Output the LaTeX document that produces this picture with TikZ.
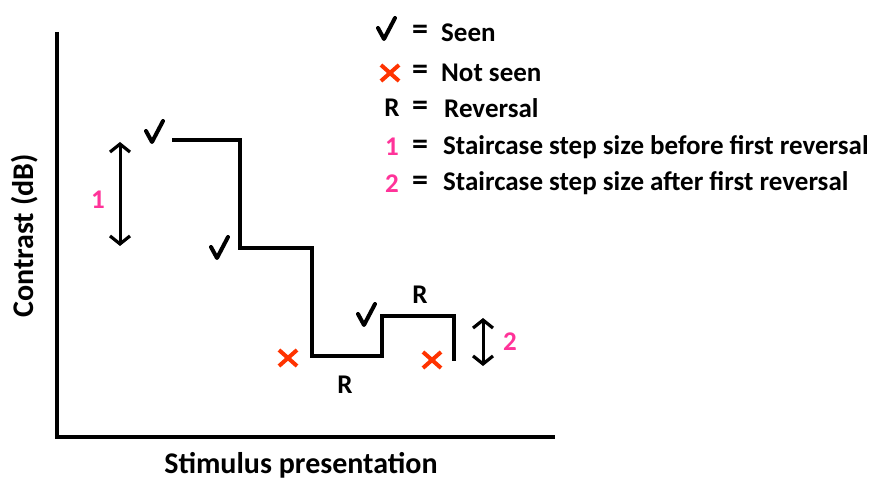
\documentclass[tikz,border=0pt]{standalone}
\usepackage{fontspec}
\setmainfont{Carlito}
\usetikzlibrary{arrows.meta,calc}
\definecolor{pinkc}{RGB}{255,51,153}
\definecolor{redx}{RGB}{255,51,0}
\begin{document}
\begin{tikzpicture}[x=1pt,y=-1pt,
  txt/.style={font=\bfseries\fontsize{27}{30}\selectfont,inner sep=0pt},
  axl/.style={font=\bfseries\fontsize{30}{34}\selectfont,inner sep=0pt},
  eq/.style={font=\bfseries\fontsize{32}{34}\selectfont,inner sep=0pt},
  lbl/.style={txt,anchor=west},
  num/.style={txt,text=pinkc},
  ln/.style={line width=3.5pt},
  dbl/.style={line width=3pt,{Straight Barb[length=8pt,width=20pt,line width=3.2pt]}-{Straight Barb[length=8pt,width=20pt,line width=3.2pt]}},
  crossmark/.style={draw=redx,line width=4pt},
  checkmark/.pic={\draw[line width=4pt,line join=round,line cap=round] (-8,-1) -- (-2,10) -- (9,-11);},
  xmark/.pic={\draw[crossmark] (-9,-8) -- (9,8) (-9,8) -- (9,-8);}
]
\useasboundingbox (0,0) rectangle (871,481);
% axes
\coordinate (ytop) at (57,32);
\coordinate (orig) at (57,437);
\coordinate (xend) at (555,437);
\draw[ln] (ytop) -- (orig) -- (xend);
\node[axl,rotate=90] (ylab) at (25,236) {Contrast (dB)};
\node[axl] (xlab) at (301,465) {Stimulus presentation};
% staircase
\coordinate (s0) at (172,140);
\coordinate (s1) at (240,140);
\coordinate (s2) at (240,248);
\coordinate (s3) at (312,248);
\coordinate (s4) at (312,356);
\coordinate (s5) at (382,356);
\coordinate (s6) at (382,316);
\coordinate (s7) at (454,316);
\coordinate (s8) at (454,361);
\draw[ln] (s0) -- (s1) -- (s2) -- (s3) -- (s4) -- (s5) -- (s6) -- (s7) -- (s8);
% checks
\pic at (154,132) {checkmark};
\pic at (219,248) {checkmark};
\pic at (366,315) {checkmark};
% crosses
\pic at (288,358) {xmark};
\pic at (432,360) {xmark};
% R labels
\node[txt] (r1) at (345,385) {R};
\node[txt] (r2) at (420,295) {R};
% arrows
\coordinate (a1t) at (120,142);
\coordinate (a1b) at (120,246);
\draw[dbl] (a1t) -- (a1b);
\node[num] (n1) at (98,200) {1};
\coordinate (a2t) at (483,318);
\coordinate (a2b) at (483,366);
\draw[dbl] (a2t) -- (a2b);
\node[num] (n2) at (510,342) {2};
% legend
\pic at (386,29) {checkmark};
\node[eq] (le1) at (420,32) {=};
\node[lbl] (lt1) at (441,33) {Seen};
\pic at (390,73) {xmark};
\node[eq] (le2) at (420,72) {=};
\node[lbl] (lt2) at (441,73) {Not seen};
\node[txt] (lr) at (392,108) {R};
\node[eq] (le3) at (420,108) {=};
\node[lbl] (lt3) at (444,108) {Reversal};
\node[num] (l1) at (392,147) {1};
\node[eq] (le4) at (420,147) {=};
\node[lbl] (lt4) at (443,147) {Staircase step size before first reversal};
\node[num] (l2) at (392,184) {2};
\node[eq] (le5) at (420,183) {=};
\node[lbl] (lt5) at (443,183) {Staircase step size after first reversal};
\end{tikzpicture}
\end{document}
